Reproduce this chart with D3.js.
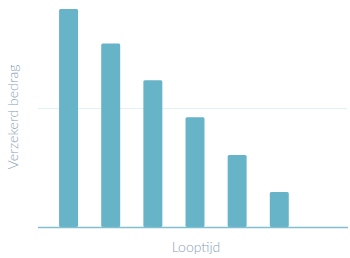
<!DOCTYPE html>
<html>
<head>
<meta charset="utf-8">
<script src="https://cdn.jsdelivr.net/npm/d3@7"></script>
<style>
  body { margin: 0; background: #fff; }
  text { font-family: Lato, "Open Sans", sans-serif; font-weight: 300; fill: #8aa1b6; }
</style>
</head>
<body>
<svg id="chart" width="350" height="258"></svg>
<script>
// looptijd categories and insured amount (relative units)
const periods = ["1", "2", "3", "4", "5", "6", "7"];
const amounts = [6, 5.05, 4.04, 3.02, 1.98, 0.96, 0];
const gridTicks = [3.27];

const width = 350, height = 258;
const margin = {top: 9, right: 2, bottom: 31, left: 38};

const svg = d3.select("#chart");

const x = d3.scaleBand()
    .domain(periods)
    .range([margin.left, 352])
    .paddingInner(0.55)
    .paddingOuter(0.5);

const y = d3.scaleLinear()
    .domain([0, 6])
    .range([height - margin.bottom, margin.top]);

// grid
svg.append("g")
  .selectAll("line")
  .data(gridTicks)
  .join("line")
    .attr("x1", margin.left)
    .attr("x2", width - 3)
    .attr("y1", d => Math.round(y(d)) + 0.5)
    .attr("y2", d => Math.round(y(d)) + 0.5)
    .attr("stroke", "#e3f1f5")
    .attr("stroke-width", 1);

// bars
svg.append("g")
  .selectAll("rect")
  .data(amounts.map((v, i) => ({p: periods[i], v})).filter(d => d.v > 0))
  .join("rect")
    .attr("x", d => x(d.p))
    .attr("y", d => y(d.v))
    .attr("width", x.bandwidth())
    .attr("height", d => y(0) - y(d.v))
    .attr("rx", 1.5)
    .attr("fill", "#67b3c8");

// baseline
svg.append("line")
    .attr("x1", margin.left)
    .attr("x2", width - 2)
    .attr("y1", y(0) + 0.5)
    .attr("y2", y(0) + 0.5)
    .attr("stroke", "#7fbfd0")
    .attr("stroke-width", 1.5);

// axis labels
svg.append("text")
    .attr("transform", "translate(18,117) rotate(-90)")
    .attr("text-anchor", "middle")
    .attr("font-size", 14)
    .text("Verzekerd bedrag");

svg.append("text")
    .attr("x", 196)
    .attr("y", 252)
    .attr("text-anchor", "middle")
    .attr("font-size", 14)
    .text("Looptijd");
</script>
</body>
</html>
